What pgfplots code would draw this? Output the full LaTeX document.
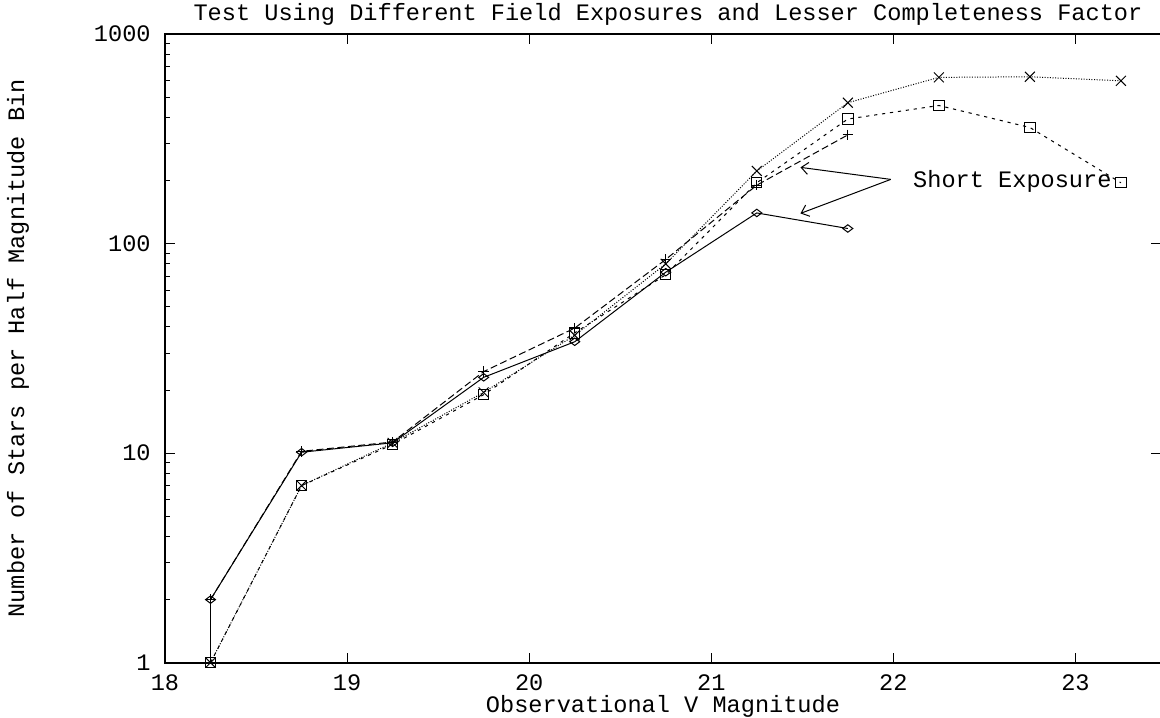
\documentclass[border=0pt]{standalone}
\usepackage{fontspec}
\setmainfont{Liberation Mono}
\usepackage{pgfplots}
\pgfplotsset{compat=1.18}
\usetikzlibrary{arrows.meta}

\newcommand\gfont{\fontsize{11.8}{14}\selectfont}

\begin{document}
\begin{tikzpicture}[font=\gfont]
\useasboundingbox (-82.5pt,-27.15pt) rectangle (497.5pt,331.35pt);
\begin{axis}[
  at={(0,0)}, anchor=south west,
  scale only axis, width=498pt, height=314.35pt,
  ymode=log, xmin=18, xmax=23.47, ymin=1, ymax=1000,
  xtick={18,19,20,21,22,23},
  ytick={1,10,100,1000}, yticklabels={1,10,100,1000},
  minor ytick={2,3,4,5,6,7,8,9,20,30,40,50,60,70,80,90,200,300,400,500,600,700,800,900},
  xtick pos=both, ytick pos=left, tick align=inside,
  major tick length=5pt, minor tick length=2.5pt,
  tick style={line width=0.5pt, black},
  axis line style={line width=1pt},
  /pgf/number format/assume math mode=true,
  xticklabel style={anchor=center, inner sep=0pt, yshift=-10.2pt, font=\gfont},
  yticklabel style={anchor=east, inner sep=0pt, xshift=-7pt, font=\gfont},
  title={Test Using Different Field Exposures and Lesser Completeness Factor},
  title style={at={(axis description cs:0.505,1.0127)}, anchor=center, inner sep=0pt, font=\gfont},
  xlabel={Observational V Magnitude},
  xlabel style={at={(axis description cs:0.5,-0.0695)}, anchor=center, yshift=0pt, inner sep=0pt, font=\gfont},
  ylabel={Number of Stars per Half Magnitude Bin},
  ylabel style={at={(axis description cs:-0.1476,0.5)}, anchor=center, xshift=0pt, yshift=0pt, inner sep=0pt, font=\gfont},
  every axis plot/.append style={line width=0.5pt, black},
]

% first field: solid with diamonds
\addplot[no marks, solid] coordinates {(18.25,1) (18.25,2)};
\addplot[solid, mark=diamond, mark size=2.5pt, mark options={rotate=90, solid}]
  coordinates {(18.25,2) (18.75,10.1) (19.25,11.2) (19.75,23) (20.25,34) (20.75,73) (21.25,140) (21.75,118)};

% second field: long dashes with plus signs
\addplot[dash pattern=on 3.5pt off 1.75pt, mark=+, mark size=2.6pt, mark options={solid}]
  coordinates {(18.25,2) (18.75,10.2) (19.25,11.3) (19.75,24.5) (20.25,39.5) (20.75,84) (21.25,190) (21.75,330)};

% third field: short dashes with squares
\addplot[dash pattern=on 1.6pt off 2.4pt, mark=square, mark size=2.6pt, mark options={solid}]
  coordinates {(18.25,1) (18.75,7) (19.25,11) (19.75,19) (20.25,37.5) (20.75,71) (21.25,195) (21.75,393) (22.25,456) (22.75,358) (23.25,195)};

% fourth field: dotted with crosses
\addplot[dash pattern=on 0.5pt off 0.8pt, mark=x, mark size=3.5pt, mark options={solid}]
  coordinates {(18.25,1) (18.75,7) (19.25,11.2) (19.75,19.5) (20.25,36.5) (20.75,80) (21.25,222) (21.75,470) (22.25,621) (22.75,625) (23.25,598)};

% annotation
\draw[line width=0.5pt, -{Straight Barb[length=3.5pt,width=6pt]}] (axis cs:21.986,202.4) -- (axis cs:21.49,231);
\draw[line width=0.5pt, -{Straight Barb[length=3.5pt,width=6pt]}] (axis cs:21.986,202.4) -- (axis cs:21.49,139.3);
\node[anchor=west, inner sep=0pt, font=\gfont] at (axis cs:22.107,199) {Short Exposure};

% major ticks on the right-hand border
\draw[line width=0.5pt] (axis cs:23.47,10) -- ([xshift=-5pt]axis cs:23.47,10);
\draw[line width=0.5pt] (axis cs:23.47,100) -- ([xshift=-5pt]axis cs:23.47,100);
\end{axis}
\end{tikzpicture}
\end{document}
